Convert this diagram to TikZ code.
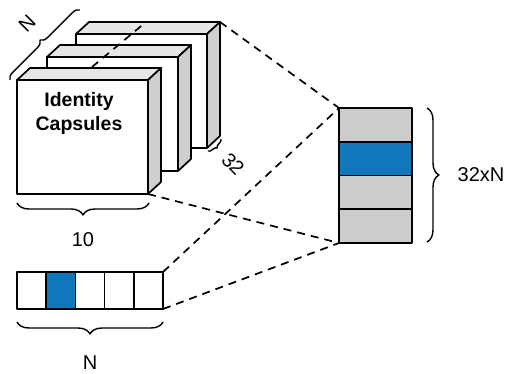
\documentclass[tikz,border=0pt]{standalone}
\usepackage{fontspec}
\setmainfont{Liberation Sans}
\usetikzlibrary{decorations.pathreplacing}
\definecolor{capblue}{HTML}{1177BB}
\definecolor{cellgray}{HTML}{CCCCCC}
\definecolor{topgray}{HTML}{E6E6E6}
\definecolor{sidegray}{HTML}{CFCFCF}

\begin{document}
\begin{tikzpicture}[x=1pt,y=-1pt,line width=1.7pt,line join=round,
    cell/.style={draw,rectangle,inner sep=0pt,outer sep=0pt},
    link/.style={dash pattern=on 8pt off 6pt},
    brc/.style={decorate,decoration={brace,amplitude=#1},line width=1.4pt},
    lbl/.style={font=\fontsize{20}{22}\selectfont,inner sep=1pt}]
  \useasboundingbox (0,0) rectangle (507,374);
  % stacked capsule boxes, back to front
  \foreach \x/\y in {76/34,47/57,17/80}{
    \draw[fill=white] (\x,\y) rectangle ++(131,114);
    \draw[fill=topgray] (\x,\y) -- ++(13,-12) -- ++(131,0) -- ++(-13,12) -- cycle;
    \draw[fill=sidegray] (\x+131,\y) -- ++(13,-12) -- ++(0,114) -- ++(-13,12) -- cycle;
  }
  \draw[link] (92,67) -- (146,22);
  \coordinate (capTR) at (220,22);
  \coordinate (capBR) at (148,194);
  \node[font=\fontsize{19.5}{24}\selectfont\bfseries,align=center] (caps) at (79,113)
    {Identity\\Capsules};
  % output column
  \foreach \i/\c in {1/cellgray,2/capblue,3/cellgray,4/cellgray}
    \node[cell,fill=\c,minimum width=73pt,minimum height=33.75pt]
      (c\i) at (375.5,{91.125+33.75*\i}) {};
  % one-hot vector
  \foreach \i/\c in {1/white,2/capblue,3/white,4/white,5/white}
    \node[cell,fill=\c,minimum width=29.2pt,minimum height=37pt]
      (v\i) at ({17+29.2*(\i-0.5)},290.5) {};
  \draw[link] (capTR) -- (c1.north west);
  \draw[link] (capBR) -- (c4.south west);
  \draw[link] (v5.north east) -- (c1.north west);
  \draw[link] (v5.south east) -- (c4.south west);
  % braces
  \draw[brc=7pt] (10,80) -- (80,10);
  \node[lbl,rotate=45] (nlab) at (27,24) {N};
  \draw[brc=4pt] (221,139) -- (208,151);
  \node[lbl,rotate=-45] (dlab) at (233,164) {32};
  \draw[brc=12pt] (149,203) -- (17,203);
  \node[lbl] (wlab) at (83,240) {10};
  \draw[brc=12pt] (427,108) -- (427,242);
  \node[lbl] (hlab) at (481,175) {32xN};
  \draw[brc=12pt] (163,322) -- (17,322);
  \node[lbl] (vlab) at (90,363) {N};
\end{tikzpicture}
\end{document}
